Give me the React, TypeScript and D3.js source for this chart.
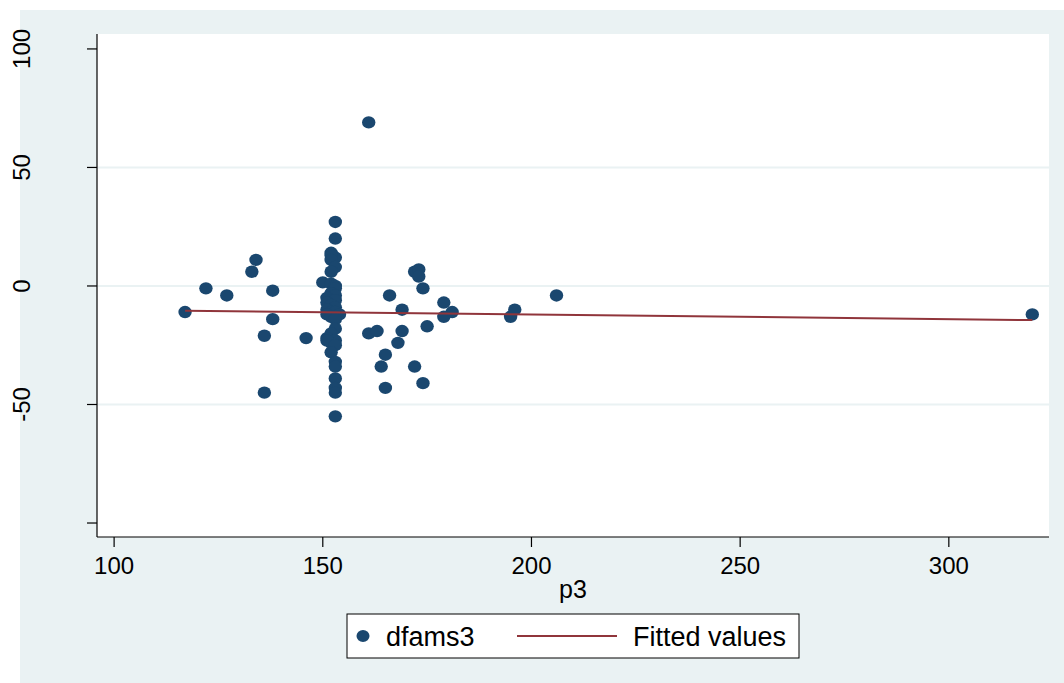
import React from "react";
import * as d3 from "d3";

// p3 (x) and dfams3 (y)
const p3 = [
  117, 122, 127, 133, 134, 136, 136, 138, 138, 146, 150,
  153, 153, 152, 153, 152, 152, 153, 152, 152, 153, 153, 152, 153, 151, 152, 153, 151, 152, 153, 151,
  152, 153, 154, 151, 152, 153, 153, 152, 151, 153, 152, 151, 153, 152, 153, 153, 153, 153, 153, 153,
  161, 161, 163, 166, 169, 169, 168, 165, 164, 165, 172, 173, 173, 174, 172, 174, 175, 179, 181, 179,
  195, 196, 206, 320,
];
const dfams3 = [
  -11, -1, -4, 6, 11, -21, -45, -2, -14, -22, 1.5,
  27, 20, 14, 12, 13, 11, 8, 6, 1, 0, -1, -3, -4, -5, -6, -6, -7, -8, -9, -10,
  -11, -11, -12, -12, -13, -14, -18, -20, -22, -23, -24, -23, -25, -28, -32, -34, -39, -43, -45, -55,
  69, -20, -19, -4, -10, -19, -24, -29, -34, -43, 6, 7, 4, -1, -34, -41, -17, -7, -11, -13,
  -13, -10, -4, -12,
];

// Fitted values (linear fit) endpoints
const fittedP3 = [117, 320];
const fittedValues = [-10.4, -14.4];

const xTicks = [100, 150, 200, 250, 300];
const yTicks = [-100, -50, 0, 50, 100];
const yGridTicks = [-50, 0, 50];

const xLabel = "p3";
const legendLabels = ["dfams3", "Fitted values"];

const NAVY = "#1a476f";
const MAROON = "#90353b";
const BG = "#eaf2f3";
const FONT = "'Liberation Sans', Arial, Helvetica, sans-serif";

export default function App() {
  const left = 97, right = 1049, top = 34, bottom = 537;
  const x = d3.scaleLinear().domain([95.9, 324]).range([left, right]);
  const y = d3.scaleLinear().domain([-105.9, 106.3]).range([bottom, top]);

  const pts = p3.map((v, i) => [v, dfams3[i]] as [number, number]);
  const fitLine = d3
    .line<number>()
    .x((d, i) => x(fittedP3[i]))
    .y((d) => y(d));

  return (
    <svg
      width={1064}
      height={683}
      style={{ position: "absolute", left: 0, top: 0, display: "block" }}
      fontFamily={FONT}
    >
      <rect x={0} y={0} width={1064} height={683} fill="#ffffff" />
      <rect x={20} y={10} width={1044} height={673} fill={BG} />
      <rect x={left} y={top} width={right - left} height={bottom - top} fill="#ffffff" />

      {/* gridlines */}
      {yGridTicks.map((t) => (
        <line key={"g" + t} x1={left} x2={right} y1={y(t)} y2={y(t)} stroke={BG} strokeWidth={2} />
      ))}

      {/* axes */}
      <line x1={left} x2={left} y1={top} y2={bottom} stroke="#000" strokeWidth={1.2} />
      <line x1={left} x2={right} y1={bottom} y2={bottom} stroke="#000" strokeWidth={1.2} />

      {yTicks.map((t) => (
        <g key={"y" + t}>
          <line x1={left - 10} x2={left} y1={y(t)} y2={y(t)} stroke="#000" strokeWidth={1.2} />
          {t !== -100 && (
            <text
              transform={`translate(30,${y(t)}) rotate(-90)`}
              textAnchor="middle"
              fontSize={24}
              fill="#000"
            >
              {t}
            </text>
          )}
        </g>
      ))}

      {xTicks.map((t) => (
        <g key={"x" + t}>
          <line x1={x(t)} x2={x(t)} y1={bottom} y2={bottom + 10} stroke="#000" strokeWidth={1.2} />
          <text x={x(t)} y={574} textAnchor="middle" fontSize={24} fill="#000">
            {t}
          </text>
        </g>
      ))}

      <text x={(left + right) / 2} y={598} textAnchor="middle" fontSize={25} fill="#000">
        {xLabel}
      </text>

      {/* points */}
      {pts.map(([a, b], i) => (
        <ellipse key={"p" + i} cx={x(a)} cy={y(b)} rx={6.7} ry={6.2} fill={NAVY} />
      ))}

      {/* fitted line */}
      <path d={fitLine(fittedValues) || ""} fill="none" stroke={MAROON} strokeWidth={2} />

      {/* legend */}
      <rect x={347} y={614} width={452} height={44} fill="#ffffff" stroke="#000" strokeWidth={1} />
      <ellipse cx={363} cy={636} rx={6.5} ry={6} fill={NAVY} />
      <text x={386} y={646} fontSize={27} fill="#000">
        {legendLabels[0]}
      </text>
      <line x1={517} x2={617} y1={636} y2={636} stroke={MAROON} strokeWidth={2} />
      <text x={633} y={646} fontSize={27} fill="#000">
        {legendLabels[1]}
      </text>
    </svg>
  );
}
